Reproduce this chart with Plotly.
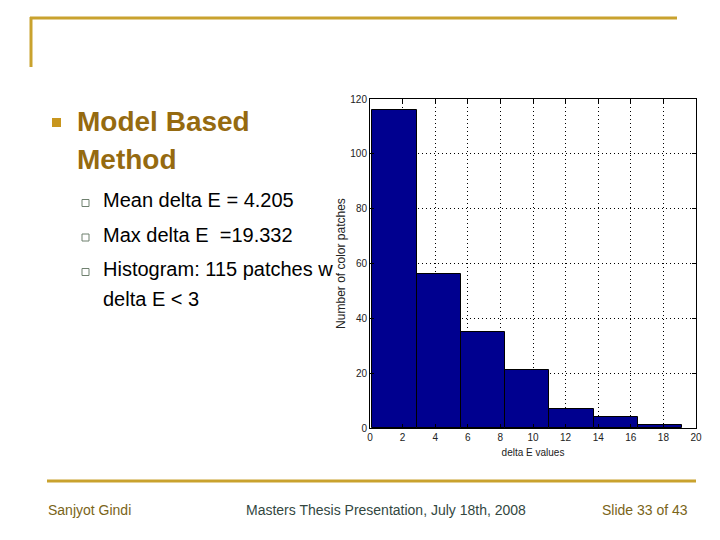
import plotly.graph_objects as go

# histogram of delta E values (7 bins)
bin_centers = [1.50, 4.21, 6.93, 9.64, 12.36, 15.07, 17.79]
counts = [116, 56, 35, 21, 7, 4, 1]
x_ticks = [0, 2, 4, 6, 8, 10, 12, 14, 16, 18, 20]
y_ticks = [0, 20, 40, 60, 80, 100, 120]

title_lines = ["Model Based", "Method"]
sub_bullets = ["Mean delta E = 4.205", "Max delta E \u00a0=19.332", "Histogram: 115 patches w"]
sub_cont = "delta E < 3"
footer_left = "Sanjyot Gindi"
footer_mid = "Masters Thesis Presentation, July 18th, 2008"
footer_right = "Slide 33 of 43"

W, H = 720, 540
OFF = 8  # page body margin
GOLD = "#C9A22E"
FONT = "Liberation Sans, Arial, sans-serif"


def px(x):
    return (x - OFF) / W


def py(y):
    return 1 - (y - OFF) / H


bw = bin_centers[1] - bin_centers[0]

fig = go.Figure()
fig.add_trace(
    go.Bar(
        x=bin_centers,
        y=counts,
        width=bw,
        marker=dict(color="#00008F", line=dict(color="black", width=1)),
        showlegend=False,
    )
)

axis_common = dict(
    showline=True,
    linecolor="black",
    linewidth=1,
    mirror="ticks",
    ticks="inside",
    ticklen=4,
    tickcolor="black",
    showgrid=True,
    gridcolor="black",
    gridwidth=1,
    griddash="1px,3px",
    zeroline=False,
    automargin=False,
    tickfont=dict(family=FONT, size=10, color="#222"),
)

fig.update_xaxes(
    axis_common,
    range=[0, 20],
    tickvals=x_ticks,
    domain=[px(370), px(696)],
    title=dict(text="delta E values", font=dict(family=FONT, size=10, color="#222"), standoff=6),
)
fig.update_yaxes(
    axis_common,
    range=[0, 120],
    tickvals=y_ticks,
    domain=[py(428), py(99)],
    title=dict(text="Number of color patches", font=dict(family=FONT, size=12, color="#222"), standoff=2),
)

P = dict(xref="paper", yref="paper")
shapes = [
    dict(type="line", x0=px(30), x1=px(677), y0=py(18), y1=py(18), line=dict(color=GOLD, width=3), **P),
    dict(type="line", x0=px(31), x1=px(31), y0=py(17), y1=py(67), line=dict(color=GOLD, width=3), **P),
    dict(type="line", x0=px(47), x1=px(696), y0=py(481), y1=py(481), line=dict(color=GOLD, width=3), **P),
    dict(type="rect", x0=px(52), x1=px(61), y0=py(118), y1=py(127), fillcolor="#C8961E", line=dict(width=0), **P),
]
for i in range(len(sub_bullets)):
    yc = 203 + 34.5 * i
    shapes.append(
        dict(type="rect", x0=px(82), x1=px(89), y0=py(yc - 3.5), y1=py(yc + 3.5),
             fillcolor="white", line=dict(color="#6F806F", width=1), **P)
    )

annotations = []
for i, t in enumerate(title_lines):
    annotations.append(dict(text="<b>" + t + "</b>", x=px(75), y=py(121 + 39 * i), xanchor="left", yanchor="middle",
                            font=dict(family=FONT, size=28, color="#956A10"), showarrow=False, **P))
for i, t in enumerate(sub_bullets):
    annotations.append(dict(text=t, x=px(101), y=py(200 + 34.5 * i), xanchor="left", yanchor="middle",
                            font=dict(family=FONT, size=20, color="black"), showarrow=False, **P))
annotations.append(dict(text=sub_cont, x=px(101), y=py(299), xanchor="left", yanchor="middle",
                        font=dict(family=FONT, size=20, color="black"), showarrow=False, **P))
annotations.append(dict(text=footer_left, x=px(46), y=py(510), xanchor="left", yanchor="middle",
                        font=dict(family=FONT, size=14, color="#7A6418"), showarrow=False, **P))
annotations.append(dict(text=footer_mid, x=px(386), y=py(510), xanchor="center", yanchor="middle",
                        font=dict(family=FONT, size=14, color="#33473F"), showarrow=False, **P))
annotations.append(dict(text=footer_right, x=px(690), y=py(510), xanchor="right", yanchor="middle",
                        font=dict(family=FONT, size=14, color="#7A6418"), showarrow=False, **P))

fig.update_layout(
    width=W,
    height=H,
    margin=dict(l=0, r=0, t=0, b=0),
    paper_bgcolor="white",
    plot_bgcolor="white",
    bargap=0,
    shapes=shapes,
    annotations=annotations,
    showlegend=False,
)

fig.write_html("out.html")
